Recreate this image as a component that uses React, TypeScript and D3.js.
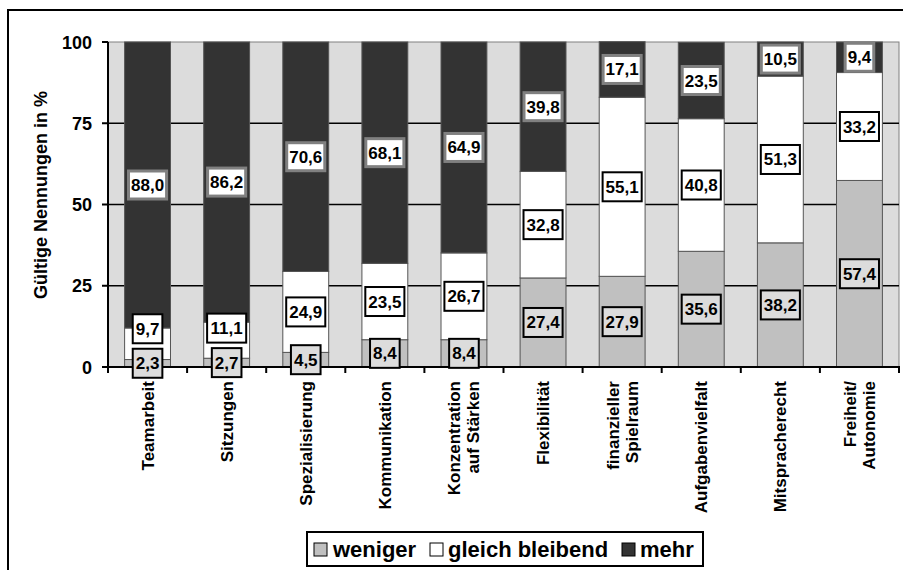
import React from "react";
import * as d3 from "d3";

const categories = [
  "Teamarbeit",
  "Sitzungen",
  "Spezialisierung",
  "Kommunikation",
  "Konzentration\nauf Stärken",
  "Flexibilität",
  "finanzieller\nSpielraum",
  "Aufgabenvielfalt",
  "Mitspracherecht",
  "Freiheit/\nAutonomie",
];
const weniger = [2.3, 2.7, 4.5, 8.4, 8.4, 27.4, 27.9, 35.6, 38.2, 57.4];
const gleich = [9.7, 11.1, 24.9, 23.5, 26.7, 32.8, 55.1, 40.8, 51.3, 33.2];
const mehr = [88.0, 86.2, 70.6, 68.1, 64.9, 39.8, 17.1, 23.5, 10.5, 9.4];
const seriesNames = ["weniger", "gleich bleibend", "mehr"];
const yTicks = [0, 25, 50, 75, 100];

const W = 903;
const H = 570;
const plotL = 108;
const plotR = 899;
const plotT = 42;
const plotB = 367;

const FONT = "Arial, 'Liberation Sans', Helvetica, sans-serif";
const colors = ["#c0c0c0", "#ffffff", "#333333"];
const labelFill = ["#dcdcdc", "#ffffff", "#ffffff"];
const labelStroke = ["#000000", "#000000", "#808080"];
const labelStrokeW = [2, 2, 3];

const fmt = (v: number) => v.toFixed(1).replace(".", ",");
const charW = (c: string) => (c === "," ? 0.278 : 0.556);
const textWidth = (s: string, fs: number) =>
  s.split("").reduce((a, c) => a + charW(c) * fs, 0);

export default function App() {
  const x = d3
    .scaleBand<number>()
    .domain(d3.range(categories.length))
    .range([plotL, plotR])
    .paddingInner(0.42)
    .paddingOuter(0.21);
  const band = (plotR - plotL) / categories.length;
  const y = d3.scaleLinear().domain([0, 100]).range([plotB, plotT]);

  const rows = categories.map((c, i) => ({
    key: i,
    weniger: weniger[i],
    gleich: gleich[i],
    mehr: mehr[i],
  }));
  const stack = d3.stack<any>().keys(["weniger", "gleich", "mehr"])(rows);

  const fs = 17;
  const boxH = 31;
  const gap = 3.5;

  const labels: any[] = [];
  categories.forEach((_, i) => {
    let prevTop = Infinity;
    stack.forEach((s, k) => {
      const d = s[i];
      const v = d[1] - d[0];
      let cy = (y(d[0]) + y(d[1])) / 2;
      if (cy + boxH / 2 > prevTop - gap) cy = prevTop - gap - boxH / 2;
      prevTop = cy - boxH / 2;
      const txt = fmt(v);
      const w = textWidth(txt, fs) + 8;
      labels.push({ i, k, cy, txt, w });
    });
  });

  const bw = x.bandwidth();

  return (
    <svg
      width={W}
      height={H}
      style={{ position: "absolute", left: 0, top: 0, background: "#fff" }}
      fontFamily={FONT}
    >
      <rect x={0} y={0} width={W} height={H} fill="#fff" />
      <rect x={8} y={10} width={W + 20} height={H + 20} fill="none" stroke="#000" strokeWidth={2} />

      <rect x={plotL} y={plotT} width={plotR - plotL} height={plotB - plotT} fill="#dcdcdc" stroke="#808080" strokeWidth={1} />
      {yTicks
        .filter((t) => t > 0 && t < 100)
        .map((t) => (
          <line key={t} x1={plotL} x2={plotR} y1={y(t)} y2={y(t)} stroke="#000" strokeWidth={1.5} />
        ))}

      {stack.map((s, k) =>
        s.map((d, i) => (
          <rect
            key={`${k}-${i}`}
            x={x(i)}
            y={y(d[1])}
            width={bw}
            height={y(d[0]) - y(d[1])}
            fill={colors[k]}
            stroke="#555"
            strokeWidth={1}
          />
        ))
      )}

      <line x1={plotL} x2={plotL} y1={plotT} y2={plotB} stroke="#000" strokeWidth={2} />
      <line x1={plotL} x2={plotR + 1} y1={plotB} y2={plotB} stroke="#000" strokeWidth={2} />
      {yTicks.map((t) => (
        <g key={t}>
          <line x1={plotL - 6} x2={plotL} y1={y(t)} y2={y(t)} stroke="#000" strokeWidth={2} />
          <text x={92} y={y(t) + 6.5} textAnchor="end" fontSize={18} fontWeight="bold">
            {t}
          </text>
        </g>
      ))}
      {d3.range(categories.length + 1).map((i) => (
        <line
          key={i}
          x1={plotL + i * band}
          x2={plotL + i * band}
          y1={plotB}
          y2={plotB + 6}
          stroke="#000"
          strokeWidth={2}
        />
      ))}

      {labels.map((l, n) => {
        const cx = (x(l.i) as number) + bw / 2;
        const sw = labelStrokeW[l.k];
        return (
          <g key={n}>
            <rect
              x={cx - l.w / 2 + sw / 2}
              y={l.cy - boxH / 2 + sw / 2}
              width={l.w - sw}
              height={boxH - sw}
              fill={labelFill[l.k]}
              stroke={labelStroke[l.k]}
              strokeWidth={sw}
            />
            <text x={cx} y={l.cy + 6} textAnchor="middle" fontSize={fs} fontWeight="bold">
              {l.txt}
            </text>
          </g>
        );
      })}

      {categories.map((c, i) => {
        const lines = c.split("\n");
        const cx = (x(i) as number) + bw / 2;
        const L = 19;
        return (
          <text
            key={i}
            transform={`translate(${cx},381) rotate(-90)`}
            textAnchor="end"
            fontSize={17}
            fontWeight="bold"
          >
            {lines.map((ln, j) => (
              <tspan key={j} x={0} y={6 + (j - (lines.length - 1) / 2) * L}>
                {ln}
              </tspan>
            ))}
          </text>
        );
      })}

      <text transform="translate(47,195) rotate(-90)" textAnchor="middle" fontSize={18} fontWeight="bold">
        Gültige Nennungen in %
      </text>

      <g>
        <rect x={307} y={532} width={396} height={34} fill="#fff" stroke="#000" strokeWidth={2} />
        {[
          { sx: 314, tx: 333 },
          { sx: 430, tx: 448 },
          { sx: 622, tx: 640 },
        ].map((p, k) => (
          <g key={k}>
            <rect x={p.sx} y={543} width={13} height={13} fill={colors[k]} stroke="#000" strokeWidth={1} />
            <text x={p.tx} y={557} fontSize={22} fontWeight="bold">
              {seriesNames[k]}
            </text>
          </g>
        ))}
      </g>
    </svg>
  );
}
